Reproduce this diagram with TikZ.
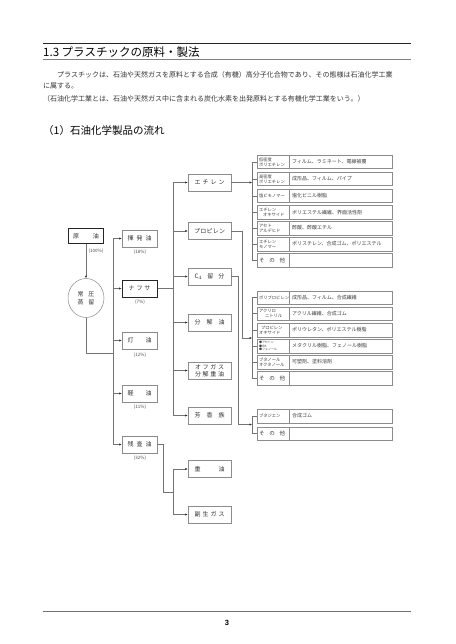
\documentclass[tikz,border=0pt]{standalone}
\usepackage{fontspec}
\setmainfont{Noto Sans CJK JP}
\newfontfamily\lat{Liberation Sans}
\usetikzlibrary{arrows.meta,shapes.geometric}
\tikzset{
  ln/.style={draw=black!55, line width=0.45pt},
  arr/.style={ln, -{Latex[length=2.4pt,width=2.2pt,color=black!85]}},
  bx/.style={draw=black!45, line width=0.5pt, minimum height=17pt, inner sep=0pt,
    align=center, font=\fontsize{6}{7.5}\selectfont, text=black!80},
  ca/.style={bx, minimum width=35pt},
  cb/.style={bx, minimum width=43pt},
  hv/.style={draw=black!85, line width=1pt},
  pct/.style={font=\fontsize{4.5}{5}\selectfont, text=black!70, inner sep=0pt},
  cl/.style={draw=black!45, line width=0.5pt, minimum height=13.5pt, text width=28pt,
    inner xsep=2pt, inner ysep=0.5pt, align=left, font=\fontsize{4.3}{5}\selectfont, text=black!75},
  cr/.style={draw=black!45, line width=0.5pt, minimum height=13.5pt, text width=97pt,
    inner xsep=3pt, inner ysep=0.5pt, align=left, font=\fontsize{5}{6}\selectfont, text=black!75},
  txt/.style={anchor=west, inner sep=0pt, text=black!80},
}
\newcommand\sprd[2]{\makebox[#1]{#2}}
\begin{document}
\begin{tikzpicture}[x=1pt,y=-1pt]
\fill[white] (0,0) rectangle (455,644);
\useasboundingbox (0,0) rectangle (455,644);

% header
\draw[black!85, line width=1pt] (43,44) -- (411,44);
\draw[black!50, line width=0.5pt] (43,59.5) -- (411,59.5);
\node[txt, text=black, font=\fontsize{11.5}{12}\selectfont] (title) at (43,52) {1.3 プラスチックの原料・製法};
\node[txt, font=\fontsize{7}{8}\selectfont] (p1) at (57,75) {プラスチックは、石油や天然ガスを原料とする合成（有機）高分子化合物であり、その態様は石油化学工業};
\node[txt, font=\fontsize{7}{8}\selectfont] (p2) at (43,86) {に属する。};
\node[txt, font=\fontsize{7}{8}\selectfont] (p3) at (43,99) {（石油化学工業とは、石油や天然ガス中に含まれる炭化水素を出発原料とする有機化学工業をいう。）};
\node[txt, text=black, font=\fontsize{10.5}{11}\selectfont] (sub) at (43,131) {（1）石油化学製品の流れ};

% footer
\draw[black!55, line width=1pt] (43,611) -- (411,611);
\node[inner sep=0pt, font=\lat\bfseries\fontsize{7.5}{8}\selectfont] (pg) at (227,623) {3};

% crude / distillation
\node[ca, hv, minimum height=15pt] (crude) at (86,236) {\sprd{26pt}{原\hfill 油}};
\node[pct] (crudep) at (96,251) {(100\%)};
\node[ellipse, draw=black!45, line width=0.5pt, minimum width=36pt, minimum height=39pt,
  inner sep=0pt, align=center, font=\fontsize{6}{8.5}\selectfont, text=black!80] (dist) at (86,298)
  {常\hspace{5pt}圧\\蒸\hspace{5pt}留};
\draw[arr] (crude.south) -- (dist.north);

% first column
\node[ca] (vol) at (139.5,238.5) {\sprd{24pt}{揮\hfill 発\hfill 油}};
\node[ca, hv] (nap) at (139.5,288.5) {\sprd{22pt}{ナ\hfill フ\hfill サ}};
\node[ca] (ker) at (139.5,340.5) {\sprd{24pt}{灯\hfill 油}};
\node[ca] (gas) at (139.5,393.5) {\sprd{24pt}{軽\hfill 油}};
\node[ca] (res) at (139.5,444.5) {\sprd{24pt}{残\hfill 査\hfill 油}};
\node[pct] (volp) at (140,252.5) {(18\%)};
\node[pct] (napp) at (140,302.5) {(7\%)};
\node[pct] (kerp) at (140,355) {(12\%)};
\node[pct] (gasp) at (140,407.5) {(11\%)};
\node[pct] (resp) at (140,458.5) {(32\%)};

\coordinate (j1) at (113,353);
\draw[ln] (dist.south) |- (j1);
\draw[ln] (vol.west -| j1) -- (res.west -| j1);
\foreach \n in {vol,nap,ker,gas,res} \draw[arr] (\n.west -| j1) -- (\n.west);

% second column
\node[cb] (eth) at (209.5,182.5) {\sprd{30pt}{エ\hfill チ\hfill レ\hfill ン}};
\node[cb] (pro) at (209.5,231) {\sprd{31pt}{プ\hfill ロ\hfill ピ\hfill レ\hfill ン}};
\node[cb] (c4) at (209.5,276.5) {\sprd{30pt}{C$_4$\hfill 留\hfill 分}};
\node[cb] (cra) at (209.5,322.5) {\sprd{30pt}{分\hfill 解\hfill 油}};
\node[cb, font=\fontsize{6}{6.8}\selectfont] (off) at (209.5,370.5) {\sprd{29pt}{オ\hfill フ\hfill ガ\hfill ス}\\\sprd{29pt}{分\hfill 解\hfill 重\hfill 油}};
\node[cb] (aro) at (209.5,415.5) {\sprd{30pt}{芳\hfill 香\hfill 族}};
\node[cb] (hvy) at (209.5,469) {\sprd{30pt}{重\hfill 油}};
\node[cb] (byp) at (209.5,514.5) {\sprd{30pt}{副\hfill 生\hfill ガ\hfill ス}};

\coordinate (j2) at (173,0);
\draw[ln] (nap.east) -- (nap.east -| j2);
\draw[ln] (eth.west -| j2) -- (aro.west -| j2);
\foreach \n in {eth,pro,c4,cra,off,aro} \draw[arr] (\n.west -| j2) -- (\n.west);
\coordinate (j3) at (163,492);
\draw[ln] (res.east) -| (j3) -- (j3 -| j2);
\draw[ln] (hvy.west -| j2) -- (byp.west -| j2);
\foreach \n in {hvy,byp} \draw[arr] (\n.west -| j2) -- (\n.west);

% product groups
\coordinate (b1) at (252,0);
% group 1: ethylene
\node[cl] (a1) at (273,162) {低密度\\ポリエチレン};
\node[cr] (a1r) at (340.5,162) {フィルム、ラミネート、電線被覆};
\node[cl] (a2) at (273,179) {高密度\\ポリエチレン};
\node[cr] (a2r) at (340.5,179) {成形品、フィルム、パイプ};
\node[cl] (a3) at (273,196) {塩ビモノマー};
\node[cr] (a3r) at (340.5,196) {塩化ビニル樹脂};
\node[cl] (a4) at (273,212.5) {エチレン\\\hspace{4pt}オキサイド};
\node[cr] (a4r) at (340.5,212.5) {ポリエステル繊維、界面活性剤};
\node[cl] (a5) at (273,228) {アセト\\アルデヒド};
\node[cr] (a5r) at (340.5,228) {酢酸、酢酸エチル};
\node[cl] (a6) at (273,244) {エチレン\\モノマー};
\node[cr] (a6r) at (340.5,244) {ポリスチレン、合成ゴム、ポリエステル};
\node[cl, font=\fontsize{5.5}{6}\selectfont] (a7) at (273,260) {\sprd{26pt}{そ\hfill の\hfill 他}};
\node[cr] (a7r) at (340.5,260) {};
\foreach \n in {a1,a2,a3,a4,a5,a6,a7} \draw[ln] (\n.west) -- (\n.west -| b1);
\draw[ln] (a1.west -| b1) -- (a7.west -| b1);
\draw[arr] (eth.east) -- (eth.east -| b1);

% group 2: propylene
\node[cl] (b1a) at (273,297.5) {ポリプロピレン};
\node[cr] (b1r) at (340.5,297.5) {成形品、フィルム、合成繊維};
\node[cl] (b2a) at (273,313.5) {アクリロ\\\hspace{6pt}ニトリル};
\node[cr] (b2r) at (340.5,313.5) {アクリル繊維、合成ゴム};
\node[cl] (b3a) at (273,330) {\hspace{2pt}プロピレン\\オキサイド};
\node[cr] (b3r) at (340.5,330) {ポリウレタン、ポリエステル樹脂};
\node[cl, font=\fontsize{3}{3.7}\selectfont] (b4a) at (273,346) {●アセトン\\●IPA\\●フェノール};
\node[cr] (b4r) at (340.5,346) {メタクリル樹脂、フェノール樹脂};
\node[cl] (b5a) at (273,362) {ブタノール\\オクタノール};
\node[cr] (b5r) at (340.5,362) {可塑剤、塗料溶剤};
\node[cl, font=\fontsize{5.5}{6}\selectfont] (b6a) at (273,378) {\sprd{26pt}{そ\hfill の\hfill 他}};
\node[cr] (b6r) at (340.5,378) {};
\foreach \n in {b1a,b2a,b3a,b4a,b5a,b6a} \draw[ln] (\n.west) -- (\n.west -| b1);
\draw[ln] (b1a.west -| b1) -- (b6a.west -| b1);
\coordinate (q1) at (242,338);
\draw[ln] (pro.east) -| (q1);
\draw[arr] (q1) -- (q1 -| b1);

% group 3: C4
\node[cl] (c1a) at (273,416) {ブタジエン};
\node[cr] (c1r) at (340.5,416) {合成ゴム};
\node[cl, font=\fontsize{5.5}{6}\selectfont] (c2a) at (273,433.5) {\sprd{26pt}{そ\hfill の\hfill 他}};
\node[cr] (c2r) at (340.5,433.5) {};
\foreach \n in {c1a,c2a} \draw[ln] (\n.west) -- (\n.west -| b1);
\draw[ln] (c1a.west -| b1) -- (c2a.west -| b1);
\coordinate (q2) at (238,424.5);
\draw[ln] (c4.east) -| (q2);
\draw[arr] (q2) -- (q2 -| b1);
\end{tikzpicture}
\end{document}
